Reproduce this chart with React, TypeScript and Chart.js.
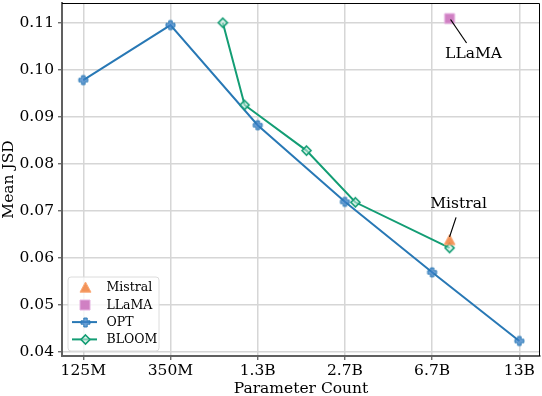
import React, { useEffect, useRef } from 'react';
import { Chart, registerables } from 'chart.js';

Chart.register(...registerables);

// ---------------- data ----------------
const CATEGORIES = ['125M', '350M', '1.3B', '2.7B', '6.7B', '13B'];
const Y_TICKS = [0.04, 0.05, 0.06, 0.07, 0.08, 0.09, 0.1, 0.11];

const OPT_X = [0, 1, 2, 3, 4, 5];
const OPT_Y = [0.0979, 0.1096, 0.0883, 0.072, 0.057, 0.0424];

const BLOOM_X = [1.6, 1.85, 2.56, 3.12, 4.2];
const BLOOM_Y = [0.1101, 0.0926, 0.0829, 0.0719, 0.0622];

const MISTRAL_X = [4.2];
const MISTRAL_Y = [0.0639];

const LLAMA_X = [4.2];
const LLAMA_Y = [0.111];

const SERIES_NAMES = ['Mistral', 'LLaMA', 'OPT', 'BLOOM'];
const X_TITLE = 'Parameter Count';
const Y_TITLE = 'Mean JSD';

// ---------------- styles ----------------
const FONT = "'DejaVu Serif', serif";
const BLUE = '#2878b5';
const GREEN = '#139d74';
const ORANGE = '#f0803c';
const PINK = '#cd79c0';

function makeMarker(shape: string, fill: string, stroke: string, size: number, lw: number) {
  const c = document.createElement('canvas');
  const s = Math.ceil(size + lw * 2 + 2);
  c.width = s;
  c.height = s;
  const g = c.getContext('2d')!;
  const m = s / 2;
  const r = size / 2;
  g.beginPath();
  if (shape === 'plus') {
    const t = r * 0.38;
    g.moveTo(m - t, m - r);
    g.lineTo(m + t, m - r);
    g.lineTo(m + t, m - t);
    g.lineTo(m + r, m - t);
    g.lineTo(m + r, m + t);
    g.lineTo(m + t, m + t);
    g.lineTo(m + t, m + r);
    g.lineTo(m - t, m + r);
    g.lineTo(m - t, m + t);
    g.lineTo(m - r, m + t);
    g.lineTo(m - r, m - t);
    g.lineTo(m - t, m - t);
    g.closePath();
  } else if (shape === 'diamond') {
    g.moveTo(m, m - r);
    g.lineTo(m + r, m);
    g.lineTo(m, m + r);
    g.lineTo(m - r, m);
    g.closePath();
  } else if (shape === 'triangle') {
    g.moveTo(m, m - r);
    g.lineTo(m + r, m + r * 0.85);
    g.lineTo(m - r, m + r * 0.85);
    g.closePath();
  } else {
    g.rect(m - r, m - r, size, size);
  }
  g.fillStyle = fill;
  g.fill();
  g.lineWidth = lw;
  g.strokeStyle = stroke;
  g.lineJoin = 'miter';
  g.stroke();
  return c;
}

export default function App() {
  const ref = useRef<HTMLCanvasElement>(null);

  useEffect(() => {
    document.body.style.margin = '0';
    const canvas = ref.current!;

    const optMarker = makeMarker('plus', 'rgba(60,130,200,0.75)', 'rgba(40,120,181,0.9)', 9, 1);
    const bloomMarker = makeMarker('diamond', 'rgba(200,235,222,0.6)', GREEN, 9, 1.6);
    const mistralMarker = makeMarker('triangle', 'rgba(240,128,60,0.85)', 'rgba(250,170,120,1)', 11, 1);
    const llamaMarker = makeMarker('square', 'rgba(205,121,192,0.95)', 'rgba(230,180,225,1)', 10, 1);

    const markers = [mistralMarker, llamaMarker, optMarker, bloomMarker];
    const seriesColors = [ORANGE, PINK, BLUE, GREEN];
    const hasLine = [false, false, true, true];

    const toPts = (xs: number[], ys: number[]) => xs.map((x, i) => ({ x, y: ys[i] }));

    const annotations = [
      { label: 'LLaMA', ds: 1, idx: 0, tdx: 24, tdy: 35.5, lx0: 17, ly0: 24.5, lx1: 1, ly1: 1 },
      { label: 'Mistral', ds: 0, idx: 0, tdx: 9, tdy: -36, lx0: 6.5, ly0: -22.5, lx1: 0, ly1: -3 },
    ];

    const overlayPlugin = {
      id: 'overlay',
      afterDatasetsDraw(chart: any) {
        const ctx = chart.ctx;
        ctx.save();
        for (const a of annotations) {
          const el = chart.getDatasetMeta(a.ds).data[a.idx];
          const px = el.x;
          const py = el.y;
          ctx.strokeStyle = '#000';
          ctx.lineWidth = 1.2;
          ctx.beginPath();
          ctx.moveTo(px + a.lx0, py + a.ly0);
          ctx.lineTo(px + a.lx1, py + a.ly1);
          ctx.stroke();
          ctx.fillStyle = '#000';
          ctx.font = `15.5px ${FONT}`;
          ctx.textAlign = 'center';
          ctx.textBaseline = 'middle';
          ctx.fillText(a.label, px + a.tdx, py + a.tdy);
        }
        ctx.restore();
      },
      afterDraw(chart: any) {
        const ctx = chart.ctx;
        const area = chart.chartArea;
        ctx.save();
        ctx.strokeStyle = '#000';
        ctx.lineWidth = 1;
        ctx.beginPath();
        ctx.moveTo(area.left, area.top + 0.5);
        ctx.lineTo(area.right - 0.5, area.top + 0.5);
        ctx.lineTo(area.right - 0.5, area.bottom);
        ctx.stroke();

        // legend
        const bx = area.left + 6;
        const bh = 74;
        const bw = 91;
        const by = area.bottom - 5 - bh;
        const rr = 3;
        ctx.beginPath();
        ctx.moveTo(bx + rr, by);
        ctx.lineTo(bx + bw - rr, by);
        ctx.quadraticCurveTo(bx + bw, by, bx + bw, by + rr);
        ctx.lineTo(bx + bw, by + bh - rr);
        ctx.quadraticCurveTo(bx + bw, by + bh, bx + bw - rr, by + bh);
        ctx.lineTo(bx + rr, by + bh);
        ctx.quadraticCurveTo(bx, by + bh, bx, by + bh - rr);
        ctx.lineTo(bx, by + rr);
        ctx.quadraticCurveTo(bx, by, bx + rr, by);
        ctx.closePath();
        ctx.fillStyle = 'rgba(255,255,255,0.8)';
        ctx.fill();
        ctx.strokeStyle = '#dcdcdc';
        ctx.lineWidth = 1;
        ctx.stroke();

        ctx.font = `12.5px ${FONT}`;
        ctx.textAlign = 'left';
        ctx.textBaseline = 'middle';
        SERIES_NAMES.forEach((name, i) => {
          const cy = by + 10.5 + i * 17.3;
          const mx = bx + 17;
          if (hasLine[i]) {
            ctx.strokeStyle = seriesColors[i];
            ctx.lineWidth = 2;
            ctx.beginPath();
            ctx.moveTo(bx + 4, cy);
            ctx.lineTo(bx + 29, cy);
            ctx.stroke();
          }
          const img = markers[i];
          ctx.drawImage(img, Math.round(mx - img.width / 2), Math.round(cy - img.height / 2));
          ctx.fillStyle = '#000';
          ctx.fillText(name, bx + 38.5, cy + 0.5);
        });
        ctx.restore();
      },
    };

    const chart = new Chart(canvas, {
      type: 'scatter',
      data: {
        datasets: [
          {
            label: SERIES_NAMES[0],
            data: toPts(MISTRAL_X, MISTRAL_Y),
            pointStyle: mistralMarker as any,
            pointRadius: 5,
            showLine: false,
            order: 1,
          },
          {
            label: SERIES_NAMES[1],
            data: toPts(LLAMA_X, LLAMA_Y),
            pointStyle: llamaMarker as any,
            pointRadius: 5,
            showLine: false,
            order: 2,
          },
          {
            label: SERIES_NAMES[2],
            data: toPts(OPT_X, OPT_Y),
            borderColor: BLUE,
            backgroundColor: BLUE,
            borderWidth: 2,
            showLine: true,
            pointStyle: optMarker as any,
            pointRadius: 4,
            order: 4,
          },
          {
            label: SERIES_NAMES[3],
            data: toPts(BLOOM_X, BLOOM_Y),
            borderColor: GREEN,
            backgroundColor: GREEN,
            borderWidth: 2,
            showLine: true,
            pointStyle: bloomMarker as any,
            pointRadius: 4,
            order: 3,
          },
        ],
      },
      options: {
        responsive: false,
        animation: false,
        devicePixelRatio: 1,
        layout: { autoPadding: false, padding: { top: 3, right: 2, left: 0, bottom: 0 } },
        plugins: {
          legend: { display: false },
          tooltip: { enabled: false },
        },
        scales: {
          x: {
            type: 'linear',
            min: -0.244,
            max: 5.237,
            afterFit: (s: any) => {
              s.height = 40;
              s.paddingLeft = 0;
              s.paddingRight = 0;
              s.paddingTop = 0;
              s.paddingBottom = 0;
            },
            afterBuildTicks: (s: any) => {
              s.ticks = CATEGORIES.map((_, i) => ({ value: i }));
            },
            ticks: {
              autoSkip: false,
              maxRotation: 0,
              padding: 2,
              color: '#000',
              font: { family: FONT, size: 15.5 },
              callback: (v: any) => CATEGORIES[Math.round(Number(v))],
            },
            grid: {
              color: '#d6d6d6',
              lineWidth: 1.5,
              tickColor: '#555',
              tickLength: 4,
              tickWidth: 1.2,
            },
            border: { color: '#606060', width: 2 },
            title: {
              display: true,
              text: X_TITLE,
              color: '#000',
              font: { family: FONT, size: 15.5 },
              padding: { top: 0, bottom: -2 },
            },
          },
          y: {
            type: 'linear',
            min: 0.0392,
            max: 0.1143,
            afterFit: (s: any) => {
              s.width = 62;
              s.paddingLeft = 0;
              s.paddingRight = 0;
              s.paddingTop = 0;
              s.paddingBottom = 0;
            },
            afterBuildTicks: (s: any) => {
              s.ticks = Y_TICKS.map((v) => ({ value: v }));
            },
            ticks: {
              autoSkip: false,
              padding: 4,
              color: '#000',
              font: { family: FONT, size: 15.5 },
              callback: (v: any) => Number(v).toFixed(2),
            },
            grid: {
              color: '#d6d6d6',
              lineWidth: 1.5,
              tickColor: '#555',
              tickLength: 4,
              tickWidth: 1.2,
            },
            border: { color: '#606060', width: 2 },
            title: {
              display: true,
              text: Y_TITLE,
              color: '#000',
              font: { family: FONT, size: 15.5 },
              padding: { top: 0, bottom: 0 },
            },
          },
        },
      },
      plugins: [overlayPlugin],
    } as any);

    return () => chart.destroy();
  }, []);

  return (
    <div style={{ position: 'absolute', left: 0, top: 0, width: 542, height: 396 }}>
      <canvas ref={ref} width={542} height={396} style={{ width: 542, height: 396, display: 'block' }} />
    </div>
  );
}
